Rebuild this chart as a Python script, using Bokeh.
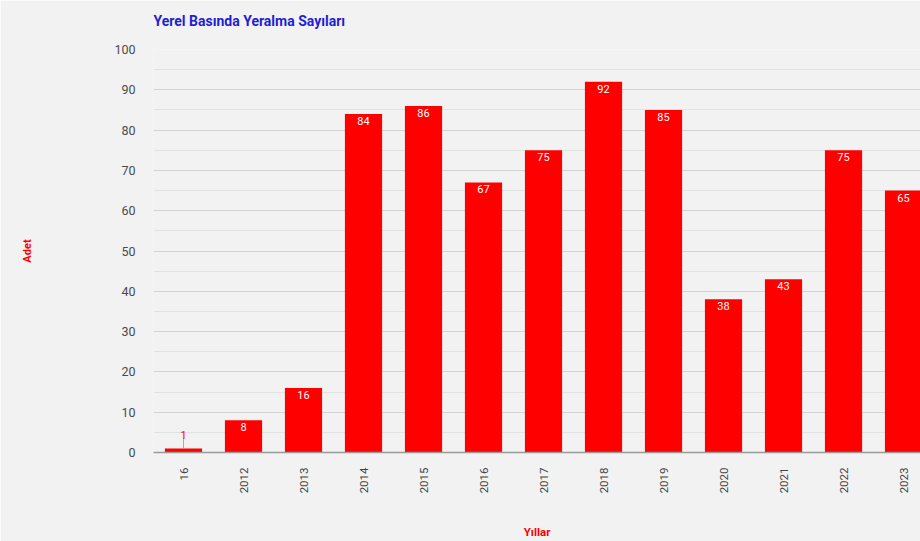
import math
from bokeh.plotting import figure
from bokeh.models import (Range1d, FixedTicker, SingleIntervalTicker, Title,
                          ColumnDataSource)
from bokeh.core.properties import value
from bokeh.embed import file_html
from bokeh.resources import INLINE

categories = ["16", "2012", "2013", "2014", "2015", "2016", "2017", "2018",
              "2019", "2020", "2021", "2022", "2023"]
counts = [1, 8, 16, 84, 86, 67, 75, 92, 85, 38, 43, 75, 65]
y_ticks = [0, 10, 20, 30, 40, 50, 60, 70, 80, 90, 100]

xs = list(range(len(categories)))
bg = "#f2f2f2"

p = figure(width=920, height=541, output_backend="svg", toolbar_location=None,
           x_range=Range1d(-0.5, 12.283), y_range=Range1d(0, 100),
           min_border_left=153, min_border_right=0, min_border_top=49,
           min_border_bottom=89, background_fill_color=bg, border_fill_color=bg,
           outline_line_color=None)

p.title = Title(text="Yerel Basında Yeralma Sayıları\n ", align="left",
                text_font="Roboto", text_font_size="14px", standoff=10,
                vertical_align="bottom",
                text_font_style="bold", text_color="#1e1ed6")

src = ColumnDataSource(dict(x=xs, top=counts,
                            lab_in=[str(c) if c >= 5 else "" for c in counts]))

p.vbar(x="x", top="top", bottom=0, width=0.62, source=src, fill_color="#ff0000",
       line_color=None)

p.text(x="x", y="top", text="lab_in", source=src, text_color="white",
       text_font=value("Roboto"), text_font_size="11px", text_align="center",
       text_baseline="top", y_offset=3)

# small leader line + outside label for tiny values
small_x = [x for x, c in zip(xs, counts) if c < 5]
small_v = [c for c in counts if c < 5]
p.segment(x0=small_x, y0=small_v, x1=small_x, y1=[v + 2.5 for v in small_v],
          line_color="#aaaaaa", line_width=1)
p.text(x=small_x, y=[v + 2.5 for v in small_v], text=[str(v) for v in small_v],
       text_color="#ff0000", text_font=value("Roboto"), text_font_size="11px",
       text_align="center", text_baseline="bottom", y_offset=1)

# axes
p.xaxis.ticker = FixedTicker(ticks=xs)
p.xaxis.major_label_overrides = {i: c for i, c in enumerate(categories)}
p.xaxis.major_label_orientation = math.pi / 2
p.xaxis.major_label_text_font = "Roboto"
p.xaxis.major_label_text_font_size = "11.5px"
p.xaxis.major_label_text_color = "#444444"
p.xaxis.axis_line_color = "#9a9a9a"
p.xaxis.axis_line_width = 1.5
p.xaxis.major_tick_line_color = None
p.xaxis.minor_tick_line_color = None
p.xaxis.major_label_standoff = 9

p.yaxis.ticker = SingleIntervalTicker(interval=10, num_minor_ticks=2)
p.yaxis.major_label_text_font = "Roboto"
p.yaxis.major_label_text_font_size = "12.5px"
p.yaxis.major_label_text_color = "#4a4a4a"
p.yaxis.axis_line_color = None
p.yaxis.major_tick_line_color = None
p.yaxis.minor_tick_line_color = None
p.yaxis.major_label_standoff = 12
p.yaxis.axis_label = "Adet"
p.yaxis.axis_label_text_font = "Roboto"
p.yaxis.axis_label_text_font_size = "11px"
p.yaxis.axis_label_text_font_style = "bold"
p.yaxis.axis_label_text_color = "#ff0000"
p.yaxis.axis_label_standoff = 77

p.xgrid.grid_line_color = None
p.ygrid.grid_line_color = "#d2d2d2"
p.ygrid.minor_grid_line_color = "#e2e2e2"

p.add_layout(Title(text=" \n \nYıllar", align="center", offset=64, standoff=0,
                   vertical_align="top",
                   text_font="Roboto", text_font_size="11.5px",
                   text_font_style="bold", text_color="#ff0000"), "below")

open("out.html", "w").write(file_html(p, INLINE))
